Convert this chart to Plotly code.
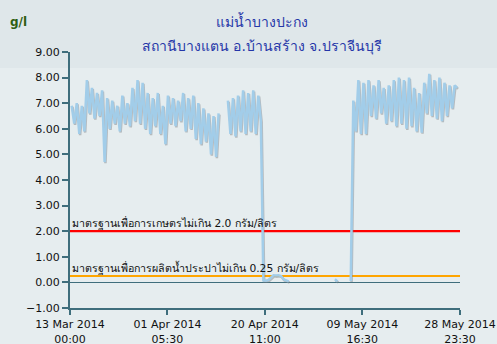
import plotly.graph_objects as go
import pandas as pd

# ---------------- data ----------------
title_text = "แม่น้ำบางปะกง"
subtitle_text = "สถานีบางแตน อ.บ้านสร้าง จ.ปราจีนบุรี"
unit_text = "g/l"

x_range = ["2014-03-13 00:00", "2014-05-28 23:30"]
x_tick_vals = ["2014-03-13 00:00", "2014-04-01 05:30", "2014-04-20 11:00",
               "2014-05-09 16:30", "2014-05-28 23:30"]
x_tick_text = ["13 Mar 2014<br>00:00", "01 Apr 2014<br>05:30", "20 Apr 2014<br>11:00",
               "09 May 2014<br>16:30", "28 May 2014<br>23:30"]
y_tick_vals = [-1, 0, 1, 2, 3, 4, 5, 6, 7, 8, 9]

agri_limit = 2.0
agri_label = "มาตรฐานเพื่อการเกษตรไม่เกิน 2.0 กรัม/ลิตร"
tap_limit = 0.25
tap_label = "มาตรฐานเพื่อการผลิตน้ำประปาไม่เกิน 0.25 กรัม/ลิตร"

sample_step = "12h"

seg1_start = "2014-03-13 08:00"
seg1_values = [6.9, 6.2, 7.0, 5.8, 6.9, 5.9, 7.9, 6.6, 7.6, 6.4,
               7.4, 6.5, 7.5, 4.7, 7.2, 6.0, 7.1, 6.2, 6.9, 5.9,
               7.3, 6.2, 7.0, 6.1, 7.6, 6.3, 7.9, 6.2, 7.8, 6.0,
               7.4, 5.8, 7.2, 6.1, 7.4, 5.8, 6.9, 5.4, 7.3, 6.2,
               7.2, 6.1, 7.1, 6.3, 7.4, 5.9, 7.2, 6.0, 7.3, 5.6,
               7.0, 5.4, 6.8, 5.5, 6.6, 5.0, 6.5, 4.9, 6.6]

seg2_start = "2014-04-13 04:00"
seg2_values = [7.1, 5.8, 7.2, 5.7, 7.3, 5.9, 7.5, 5.8, 7.4, 5.9,
               7.5, 5.8, 7.3, 6.3, 0.08, 0.07, 0.10, 0.20, 0.28, 0.27,
               0.28, 0.25, 0.12, 0.08, 0.04]

seg3_start = "2014-05-04 07:00"
seg3_values = [0.12, 0.04]

seg4_start = "2014-05-07 10:00"
seg4_values = [0.05, 7.1, 5.9, 7.9, 5.8, 7.8, 5.8, 7.9, 6.5, 7.7,
               6.4, 7.9, 6.6, 7.6, 6.2, 7.7, 6.3, 7.9, 6.1, 8.0,
               6.2, 7.9, 6.0, 8.0, 6.1, 7.6, 5.9, 7.4, 5.85, 7.8,
               6.6, 8.15, 6.5, 7.9, 6.4, 8.0, 6.3, 7.8, 6.5, 7.7,
               6.8, 7.7, 7.6]

segments = [(seg1_start, seg1_values), (seg2_start, seg2_values),
            (seg3_start, seg3_values), (seg4_start, seg4_values)]

# ---------------- styles ----------------
BG = "#e6edef"
BAND = "#dfe7ea"
AXIS = "#3f6e7c"
LINE = "#a2cde9"
SHADOW = "rgba(120,125,130,0.45)"
FONT = "DejaVu Sans, Verdana, sans-serif"

xs, ys = [], []
for start, vals in segments:
    t = pd.date_range(start=start, periods=len(vals), freq=sample_step)
    xs.extend(list(t))
    ys.extend(vals)
    xs.append(None)
    ys.append(None)

shadow_x = [None if v is None else v + pd.Timedelta(hours=4) for v in xs]
shadow_y = [None if v is None else v - 0.045 for v in ys]

fig = go.Figure()

fig.add_trace(go.Scatter(x=[x_range[0], x_range[1]], y=[agri_limit, agri_limit],
                         mode="lines", line=dict(color="#ff0000", width=2.2),
                         hoverinfo="skip"))
fig.add_trace(go.Scatter(x=[x_range[0], x_range[1]], y=[tap_limit, tap_limit],
                         mode="lines", line=dict(color="#ffa500", width=2.2),
                         hoverinfo="skip"))
fig.add_trace(go.Scatter(x=shadow_x, y=shadow_y, mode="lines",
                         line=dict(color=SHADOW, width=2.5), connectgaps=False,
                         hoverinfo="skip"))
fig.add_trace(go.Scatter(x=xs, y=ys, mode="lines",
                         line=dict(color=LINE, width=2.5), connectgaps=False))

fig.add_annotation(x=x_range[0], y=agri_limit, xref="x", yref="y", text=agri_label,
                   showarrow=False, xanchor="left", yanchor="bottom", xshift=0, yshift=-1,
                   font=dict(family=FONT, size=10.7, color="#111111"))
fig.add_annotation(x=x_range[0], y=tap_limit, xref="x", yref="y", text=tap_label,
                   showarrow=False, xanchor="left", yanchor="bottom", xshift=0, yshift=-1,
                   font=dict(family=FONT, size=10.7, color="#111111"))

fig.add_annotation(x=0.492, y=1.12, xref="paper", yref="paper", text=title_text,
                   showarrow=False, xanchor="center", yanchor="middle",
                   font=dict(family=FONT, size=14, color="#2536a8"))
fig.add_annotation(x=0.492, y=1.023, xref="paper", yref="paper", text=subtitle_text,
                   showarrow=False, xanchor="center", yanchor="middle",
                   font=dict(family=FONT, size=14, color="#2536a8"))
fig.add_annotation(x=-0.131, y=1.117, xref="paper", yref="paper", text="<b>" + unit_text + "</b>",
                   showarrow=False, xanchor="center", yanchor="middle",
                   font=dict(family=FONT, size=12, color="#2f5e12"))

fig.add_shape(type="rect", xref="paper", yref="paper", x0=-0.3, x1=1.2, y0=0.9375, y1=1.25,
              fillcolor=BAND, line=dict(width=0), layer="below")

fig.update_layout(
    width=497, height=344,
    margin=dict(l=70, r=37, t=52, b=36, autoexpand=False),
    paper_bgcolor=BG, plot_bgcolor=BG,
    showlegend=False,
    font=dict(family=FONT, size=11, color="#111111"),
    xaxis=dict(type="date", range=x_range, tickmode="array",
               tickvals=x_tick_vals, ticktext=x_tick_text, automargin=False,
               showgrid=False, zeroline=False, showline=True, linecolor=AXIS, linewidth=2,
               ticks="outside", ticklen=5, tickwidth=2, tickcolor=AXIS,
               tickfont=dict(family=FONT, size=11, color="#111111")),
    yaxis=dict(range=[-1, 9], tickmode="array", tickvals=y_tick_vals, tickformat=".2f",
               automargin=False,
               showgrid=False, zeroline=True, zerolinecolor=AXIS, zerolinewidth=1,
               showline=True, linecolor=AXIS, linewidth=2,
               ticks="outside", ticklen=6, tickwidth=2, tickcolor=AXIS,
               tickfont=dict(family=FONT, size=11, color="#111111")),
)

fig.write_html("out.html")
